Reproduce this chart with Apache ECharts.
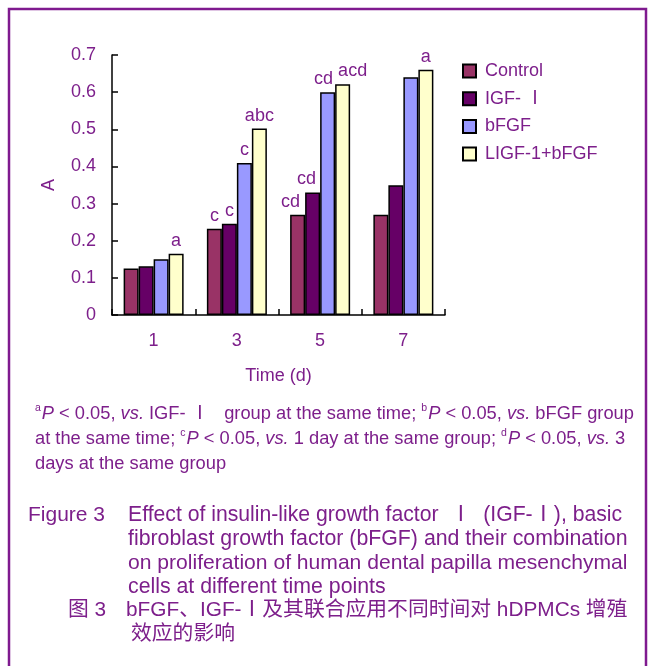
<!DOCTYPE html>
<html>
<head>
<meta charset="utf-8">
<script src="https://cdn.jsdelivr.net/npm/echarts@6/dist/echarts.min.js"></script>
<style>
html,body{margin:0;padding:0;background:#fff;}
#main{width:651px;height:666px;}
</style>
</head>
<body>
<div id="main"></div>
<script>
// ---- data ----
const categories = ['1', '3', '5', '7'];
const seriesNames = ['Control', 'IGF- Ⅰ', 'bFGF', 'LIGF-1+bFGF'];
const controlValues = [0.125, 0.232, 0.270, 0.270];
const igfValues = [0.131, 0.246, 0.330, 0.349];
const bfgfValues = [0.150, 0.409, 0.600, 0.640];
const comboValues = [0.165, 0.502, 0.621, 0.660];
const controlMarks = ['', 'c', 'cd', ''];
const igfMarks = ['', 'c', 'cd', ''];
const bfgfMarks = ['', 'c', 'cd', ''];
const comboMarks = ['a', 'abc', 'acd', 'a'];
const yTicks = [0, 0.1, 0.2, 0.3, 0.4, 0.5, 0.6, 0.7];

const PURPLE = '#7D1F8B';
const FONT = '"Liberation Sans", Arial, sans-serif';
const CJK = '"Liberation Sans", "Noto Sans CJK SC", sans-serif';
const colors = ['#993366', '#660066', '#9999FF', '#FFFFCC'];
const values = [controlValues, igfValues, bfgfValues, comboValues];
const marks = [controlMarks, igfMarks, bfgfMarks, comboMarks];
// horizontal nudges of the annotation letters in the day-5 group (layout only)
const day5Nudge = [-7, -6, -4, 10];

const chart = echarts.init(document.getElementById('main'), null, {renderer: 'canvas'});

const series = seriesNames.map((name, i) => ({
  name: name,
  type: 'bar',
  data: values[i].map((v, j) => j === 2 ? {value: v, label: {offset: [day5Nudge[i], 0]}} : v),
  barWidth: 15,
  barGap: '0%',
  itemStyle: {color: colors[i], borderColor: '#000', borderWidth: 1.5},
  label: {
    show: true,
    position: 'top',
    distance: 4,
    color: PURPLE,
    fontFamily: FONT,
    fontSize: 18,
    formatter: p => marks[i][p.dataIndex]
  },
  emphasis: {disabled: true}
}));

const FN = 18.3;
const supRich = {
  sup: {fontSize: 10.5, verticalAlign: 'top', color: PURPLE, fontFamily: FONT, lineHeight: 22, padding: [0, 1, 0, 0]},
  i: {fontStyle: 'italic', fontSize: FN, color: PURPLE, fontFamily: FONT, lineHeight: 22}
};

const option = {
  backgroundColor: '#fff',
  animation: false,
  grid: {left: 112, top: 55, width: 333, height: 260, containLabel: false},
  legend: {
    orient: 'vertical',
    left: 457,
    top: 57,
    itemWidth: 13,
    itemHeight: 13,
    itemGap: 9.7,
    icon: 'rect',
    textStyle: {color: PURPLE, fontSize: 18, fontFamily: CJK, padding: [0, 0, 0, 4]},
    data: seriesNames
  },
  xAxis: {
    type: 'category',
    data: categories,
    name: 'Time (d)',
    nameLocation: 'middle',
    nameGap: 52,
    nameTextStyle: {color: PURPLE, fontSize: 18, fontFamily: FONT},
    axisLine: {lineStyle: {color: '#000', width: 1.5}},
    axisTick: {show: true, inside: true, length: 6, lineStyle: {color: '#000', width: 1.5}},
    axisLabel: {color: PURPLE, fontSize: 18, fontFamily: FONT, margin: 17}
  },
  yAxis: {
    type: 'value',
    min: 0, max: 0.7, interval: 0.1,
    name: 'A',
    nameLocation: 'middle',
    nameRotate: 90,
    nameGap: 54,
    nameTextStyle: {color: PURPLE, fontSize: 18, fontFamily: FONT},
    axisLine: {show: true, lineStyle: {color: '#000', width: 1.5}},
    axisTick: {show: true, inside: true, length: 6, lineStyle: {color: '#000', width: 1.5}},
    splitLine: {show: false},
    axisLabel: {
      color: PURPLE, fontSize: 18, fontFamily: FONT, margin: 16,
      formatter: v => {
        const t = yTicks.find(k => Math.abs(k - v) < 1e-9);
        return t === 0 ? '0' : (t !== undefined ? t.toFixed(1) : '');
      }
    }
  },
  series: series,
  graphic: [
    {type: 'rect', silent: true, shape: {x: 9, y: 9, width: 637, height: 720},
     style: {fill: 'none', stroke: '#7F1A8F', lineWidth: 2.5}},
    // footnote
    {type: 'text', x: 35, y: 414, silent: true, style: {
      text: '{sup|a}{i|P} < 0.05, {i|vs.} IGF- Ⅰ   group at the same time; {sup|b}{i|P} < 0.05, {i|vs.} bFGF group',
      fill: PURPLE, font: FN + 'px ' + CJK, verticalAlign: 'middle', lineHeight: 22, rich: supRich}},
    {type: 'text', x: 35, y: 439, silent: true, style: {
      text: 'at the same time; {sup|c}{i|P} < 0.05, {i|vs.} 1 day at the same group; {sup|d}{i|P} < 0.05, {i|vs.} 3',
      fill: PURPLE, font: FN + 'px ' + CJK, verticalAlign: 'middle', lineHeight: 22, rich: supRich}},
    {type: 'text', x: 35, y: 464, silent: true, style: {
      text: 'days at the same group', fill: PURPLE, font: FN + 'px ' + FONT, verticalAlign: 'middle'}},
    // caption
    {type: 'text', x: 28, y: 515, silent: true, style: {text: 'Figure 3', fill: PURPLE, font: '21px ' + FONT, verticalAlign: 'middle'}},
    {type: 'text', x: 128, y: 515, silent: true, style: {text: 'Effect of insulin-like growth factor  Ⅰ  (IGF-Ⅰ), basic', fill: PURPLE, font: '21.2px ' + CJK, verticalAlign: 'middle'}},
    {type: 'text', x: 128, y: 539, silent: true, style: {text: 'fibroblast growth factor (bFGF) and their combination', fill: PURPLE, font: '21.3px ' + FONT, verticalAlign: 'middle'}},
    {type: 'text', x: 128, y: 563, silent: true, style: {text: 'on proliferation of human dental papilla mesenchymal', fill: PURPLE, font: '21.1px ' + FONT, verticalAlign: 'middle'}},
    {type: 'text', x: 128, y: 587, silent: true, style: {text: 'cells at different time points', fill: PURPLE, font: '21.3px ' + FONT, verticalAlign: 'middle'}},
    {type: 'text', x: 68, y: 610, silent: true, style: {text: '图 3', fill: PURPLE, font: '20.8px ' + CJK, verticalAlign: 'middle'}},
    {type: 'text', x: 126, y: 610, silent: true, style: {text: 'bFGF、IGF-Ⅰ及其联合应用不同时间对 hDPMCs 增殖', fill: PURPLE, font: '20.8px ' + CJK, verticalAlign: 'middle'}},
    {type: 'text', x: 131, y: 634, silent: true, style: {text: '效应的影响', fill: PURPLE, font: '20.8px ' + CJK, verticalAlign: 'middle'}}
  ]
};
chart.setOption(option);
</script>
</body>
</html>
